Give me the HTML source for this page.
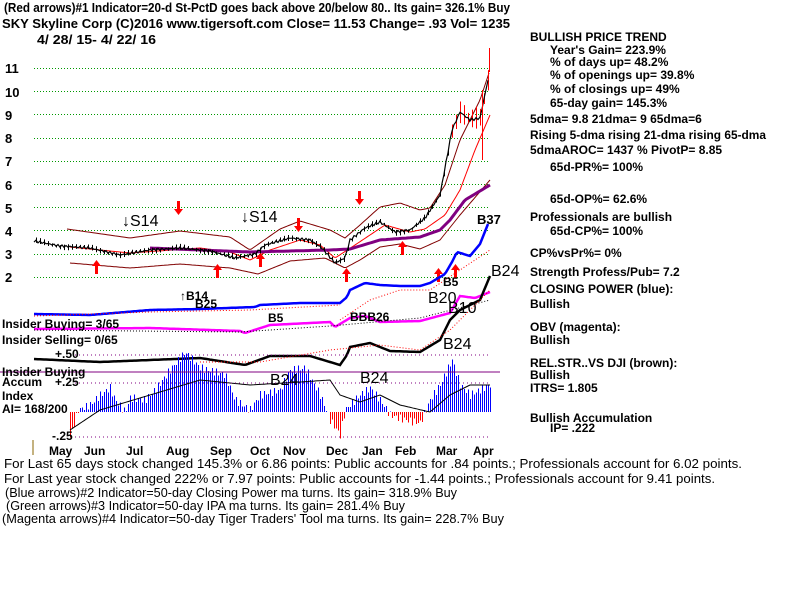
<!DOCTYPE html>
<html><head><meta charset="utf-8"><style>
html,body{margin:0;padding:0;background:#fff;width:800px;height:600px;overflow:hidden}
svg{display:block}
text{font-family:"Liberation Sans",sans-serif;font-weight:bold;fill:#000}
</style></head><body>
<svg id="s" width="800" height="600" viewBox="0 0 800 600" xmlns="http://www.w3.org/2000/svg">
<g font-size="13">
<text x="4" y="12" textLength="506" lengthAdjust="spacingAndGlyphs">(Red arrows)#1 Indicator=20-d St-PctD goes back above 20/below 80.. Its gain= 326.1% Buy</text>
<text x="2" y="28" textLength="508" lengthAdjust="spacingAndGlyphs">SKY   Skyline Corp   (C)2016 www.tigersoft.com      Close=  11.53   Change= .93 Vol= 1235</text>
<text x="37" y="44" textLength="119" lengthAdjust="spacingAndGlyphs">4/ 28/ 15- 4/ 22/ 16</text>
</g>
<g font-size="13" text-anchor="start">
<text x="5" y="73">11</text><text x="5" y="97">10</text><text x="5" y="120">9</text><text x="5" y="143">8</text>
<text x="5" y="166">7</text><text x="5" y="190">6</text><text x="5" y="213">5</text><text x="5" y="236">4</text>
<text x="5" y="259">3</text><text x="5" y="282">2</text>
</g>
<g id="grid" stroke="#090" stroke-dasharray="1,2" stroke-width="1" shape-rendering="crispEdges"></g>
<g id="plot"></g>
<line x1="0" y1="372" x2="500" y2="372" stroke="#800080" stroke-width="1" shape-rendering="crispEdges"/>
<g stroke="#800080" stroke-dasharray="1,3" shape-rendering="crispEdges"><line x1="75" y1="355" x2="490" y2="355"/><line x1="75" y1="383" x2="490" y2="383"/><line x1="75" y1="437" x2="490" y2="437"/></g>
<line x1="33" y1="440" x2="33" y2="455" stroke="#886600"/>
<g font-size="12">
<text x="55" y="358">+.50</text><text x="55" y="386">+.25</text><text x="52" y="440">-.25</text>
<text x="2" y="328">Insider Buying= 3/65</text>
<text x="2" y="344">Insider Selling= 0/65</text>
<text x="2" y="376">Insider Buying</text>
<text x="2" y="386">Accum</text>
<text x="2" y="400">Index</text>
<text x="2" y="413">AI= 168/200</text>
</g>
<g font-size="12">
<text x="49" y="455">May</text><text x="84" y="455">Jun</text><text x="126" y="455">Jul</text><text x="166" y="455">Aug</text>
<text x="210" y="455">Sep</text><text x="250" y="455">Oct</text><text x="283" y="455">Nov</text><text x="326" y="455">Dec</text>
<text x="362" y="455">Jan</text><text x="395" y="455">Feb</text><text x="436" y="455">Mar</text><text x="473" y="455">Apr</text>
</g>
<g font-size="16">
<text x="122" y="226" style="font-weight:normal">↓S14</text>
<text x="241" y="222" style="font-weight:normal">↓S14</text>
<text x="477" y="224" font-size="13">B37</text>
<text x="491" y="276" style="font-weight:normal">B24</text>
<text x="428" y="303" style="font-weight:normal">B20</text>
<text x="448" y="313" style="font-weight:normal">B10</text>
<text x="443" y="349" style="font-weight:normal">B24</text>
<text x="270" y="385" style="font-weight:normal">B24</text>
<text x="360" y="383" style="font-weight:normal">B24</text>
</g>
<g font-size="12">
<text x="180" y="300">↑B14</text><text x="195" y="308">B25</text>
<text x="268" y="322">B5</text><text x="443" y="286">B5</text>
<text x="350" y="321">BBB26</text>
</g>
<g font-size="12" id="rt">
<text x="530" y="41">BULLISH PRICE TREND</text>
<text x="550" y="54">Year's Gain= 223.9%</text>
<text x="550" y="66">% of days up= 48.2%</text>
<text x="550" y="79">% of openings up= 39.8%</text>
<text x="550" y="93">% of closings up= 49%</text>
<text x="550" y="107">65-day gain= 145.3%</text>
<text x="530" y="123">5dma= 9.8 21dma= 9 65dma=6</text>
<text x="530" y="139" textLength="236" lengthAdjust="spacingAndGlyphs">Rising 5-dma  rising 21-dma  rising 65-dma</text>
<text x="530" y="154">5dmaAROC= 1437 %  PivotP= 8.85</text>
<text x="550" y="171">65d-PR%= 100%</text>
<text x="550" y="203">65d-OP%= 62.6%</text>
<text x="530" y="221">Professionals are bullish</text>
<text x="550" y="235">65d-CP%= 100%</text>
<text x="530" y="257">CP%vsPr%=  0%</text>
<text x="530" y="276">Strength Profess/Pub= 7.2</text>
<text x="530" y="293">CLOSING POWER (blue):</text>
<text x="530" y="308">Bullish</text>
<text x="530" y="331">OBV (magenta):</text>
<text x="530" y="344">Bullish</text>
<text x="530" y="367">REL.STR..VS DJI (brown):</text>
<text x="530" y="379">Bullish</text>
<text x="530" y="392">ITRS= 1.805</text>
<text x="530" y="422">Bullish Accumulation</text>
<text x="550" y="432">IP=  .222</text>
</g>
<g font-size="13">
<text x="4" y="468" textLength="738" lengthAdjust="spacingAndGlyphs" style="font-weight:normal">For Last 65 days stock changed  145.3% or  6.86 points:  Public accounts for  .84 points.;  Professionals account for  6.02 points.</text>
<text x="4" y="483" textLength="711" lengthAdjust="spacingAndGlyphs" style="font-weight:normal">For Last year stock changed  222% or  7.97 points:  Public accounts for -1.44 points.;  Professionals account for  9.41 points.</text>
<text x="5" y="497" textLength="452" lengthAdjust="spacingAndGlyphs" style="font-weight:normal">(Blue arrows)#2 Indicator=50-day Closing Power ma turns. Its gain= 318.9% Buy</text>
<text x="6" y="510" textLength="399" lengthAdjust="spacingAndGlyphs" style="font-weight:normal">(Green arrows)#3 Indicator=50-day IPA ma turns. Its gain= 281.4% Buy</text>
<text x="2" y="523" textLength="502" lengthAdjust="spacingAndGlyphs" style="font-weight:normal">(Magenta arrows)#4 Indicator=50-day Tiger Traders' Tool ma turns. Its gain= 228.7% Buy</text>
</g>
</svg>
<script>
(function(){
var NS="http://www.w3.org/2000/svg";
var grid=document.getElementById('grid'),plot=document.getElementById('plot');
function el(p,t,a){var e=document.createElementNS(NS,t);for(var k in a)e.setAttribute(k,a[k]);p.appendChild(e);return e;}
for(var i=0;i<10;i++){var y=Math.round(68+i*23.2)+0.5;el(grid,'line',{x1:34,y1:y,x2:490,y2:y});}
function interp(pts,x){for(var i=0;i<pts.length-1;i++){if(x>=pts[i][0]&&x<=pts[i+1][0]){var t=(x-pts[i][0])/(pts[i+1][0]-pts[i][0]);return pts[i][1]+t*(pts[i+1][1]-pts[i][1]);}}return pts[pts.length-1][1];}
function line(pts,col,w,dash){var d='';var x0=pts[0][0],x1=pts[pts.length-1][0];for(var x=x0;x<=x1;x+=2){d+=(d?'L':'M')+x+' '+interp(pts,x).toFixed(1);}var a={d:d,fill:'none',stroke:col,'stroke-width':w};if(dash)a['stroke-dasharray']=dash;el(plot,'path',a);}
line([[67,229],[130,238],[180,231],[230,237],[250,250],[280,229],[300,221],[330,230],[345,238],[360,225],[380,207],[400,203],[420,210],[430,208],[445,185],[460,140],[480,100],[490,70]],'#800000',1);
line([[70,263],[130,268],[180,264],[230,268],[258,274],[290,261],[325,258],[345,268],[360,260],[380,247],[400,244],[420,249],[440,240],[460,215],[490,180]],'#800000',1);
line([[70,247],[130,253],[200,248],[230,252],[250,260],[270,250],[300,240],[320,245],[335,258],[355,245],[385,225],[410,232],[425,229],[445,215],[460,190],[475,150],[490,115]],'#f00',1);
line([[150,248],[250,252],[330,250],[350,249],[380,240],[420,237],[440,230],[450,220],[465,200],[490,185]],'#800080',3);
var pp=[[34,241],[60,246],[90,248],[120,255],[150,250],[180,248],[210,251],[235,258],[255,254],[265,245],[290,238],[310,240],[322,248],[335,263],[345,258],[350,240],[365,228],[380,222],[395,232],[410,230],[425,218],[440,195],[452,130],[460,112],[470,120],[480,118],[488,80]];
var d='';for(var x=34;x<=488;x+=2){var y=interp(pp,x)+Math.sin(x*1.7)*1.2;d+=(d?'L':'M')+x+' '+y.toFixed(1);
if(x%4==0){var h=1+Math.abs(Math.sin(x*0.9))*2;var col='#000';if(x>448){col='#f00';h=4+Math.abs(Math.sin(x))*7;}
el(plot,'line',{x1:x+0.5,y1:y-h,x2:x+0.5,y2:y+h,stroke:col,'stroke-width':1});}}
el(plot,'path',{d:d,fill:'none',stroke:'#000','stroke-width':1.2});
el(plot,'line',{x1:489.5,y1:48,x2:489.5,y2:72,stroke:'#f00','stroke-width':1});
el(plot,'line',{x1:482.5,y1:90,x2:482.5,y2:160,stroke:'#f00','stroke-width':1});
function arr(x,y,up,c){if(up){el(plot,'rect',{x:x-1,y:y-3,width:3,height:9,fill:c});el(plot,'path',{d:'M'+(x-4)+' '+(y-2)+'L'+(x+0.5)+' '+(y-8)+'L'+(x+5)+' '+(y-2)+'Z',fill:c});}
else{el(plot,'rect',{x:x-1,y:y-6,width:3,height:9,fill:c});el(plot,'path',{d:'M'+(x-4)+' '+(y+2)+'L'+(x+0.5)+' '+(y+8)+'L'+(x+5)+' '+(y+2)+'Z',fill:c});}}
[[96,268],[217,272],[346,276],[402,249],[438,276],[455,272],[260,261]].forEach(function(p){arr(p[0],p[1],true,'#f00');});
[[178,207],[298,224],[359,197]].forEach(function(p){arr(p[0],p[1],false,'#f00');});
line([[34,314],[90,315],[150,310],[200,309],[255,307],[260,305],[300,303],[340,303],[347,297],[350,290],[365,283],[380,285],[400,286],[420,286],[430,283],[445,274],[452,262],[457,252],[470,256],[480,244],[488,224]],'#00f',2.5);
line([[340,320],[370,300],[400,290],[430,290],[460,270],[490,250]],'#f00',1,'1,2');
line([[34,316],[150,312],[250,310],[340,305]],'#f00',1,'1,2');
line([[34,329],[150,328],[240,331],[245,333],[270,325],[330,322],[335,327],[350,318],[365,316],[380,322],[420,321],[435,317],[450,313],[460,296],[475,298],[490,292]],'#f0f',2.5);
line([[34,330],[240,332],[330,326],[420,318],[490,300]],'#000',1,'1,2');
line([[34,359],[100,362],[175,359],[200,358],[245,365],[270,356],[310,356],[340,365],[347,355],[350,347],[370,343],[390,351],[420,352],[440,340],[450,320],[460,310],[480,300],[490,276]],'#000',2.5);
line([[200,362],[260,362],[330,350],[380,345],[420,350],[450,330],[490,290]],'#f00',1,'1,2');
var ap=[[70,437],[78,410],[90,405],[100,395],[110,388],[115,400],[125,412],[130,398],[145,400],[155,390],[170,370],[185,352],[200,368],[215,372],[225,375],[235,400],[250,410],[260,395],[280,390],[290,370],[305,368],[320,395],[330,420],[340,435],[345,410],[360,395],[370,388],[380,400],[390,415],[405,420],[420,423],[430,400],[440,385],[452,360],[460,385],[470,395],[480,390],[490,385]];
var hg=el(plot,'g',{'shape-rendering':'crispEdges'});
for(var x=70;x<=490;x+=2){var y=interp(ap,x)+Math.sin(x*1.3)*4;var c=y<412?'#00f':'#f00';el(hg,'line',{x1:x+0.5,y1:412,x2:x+0.5,y2:y,stroke:c,'stroke-width':1});}
line([[70,430],[100,410],[150,395],[200,380],[250,385],[300,382],[330,380],[340,395],[360,402],[380,395],[400,405],[430,412],[450,395],[470,385],[490,385]],'#000',1);
})();
</script>
</body></html>
